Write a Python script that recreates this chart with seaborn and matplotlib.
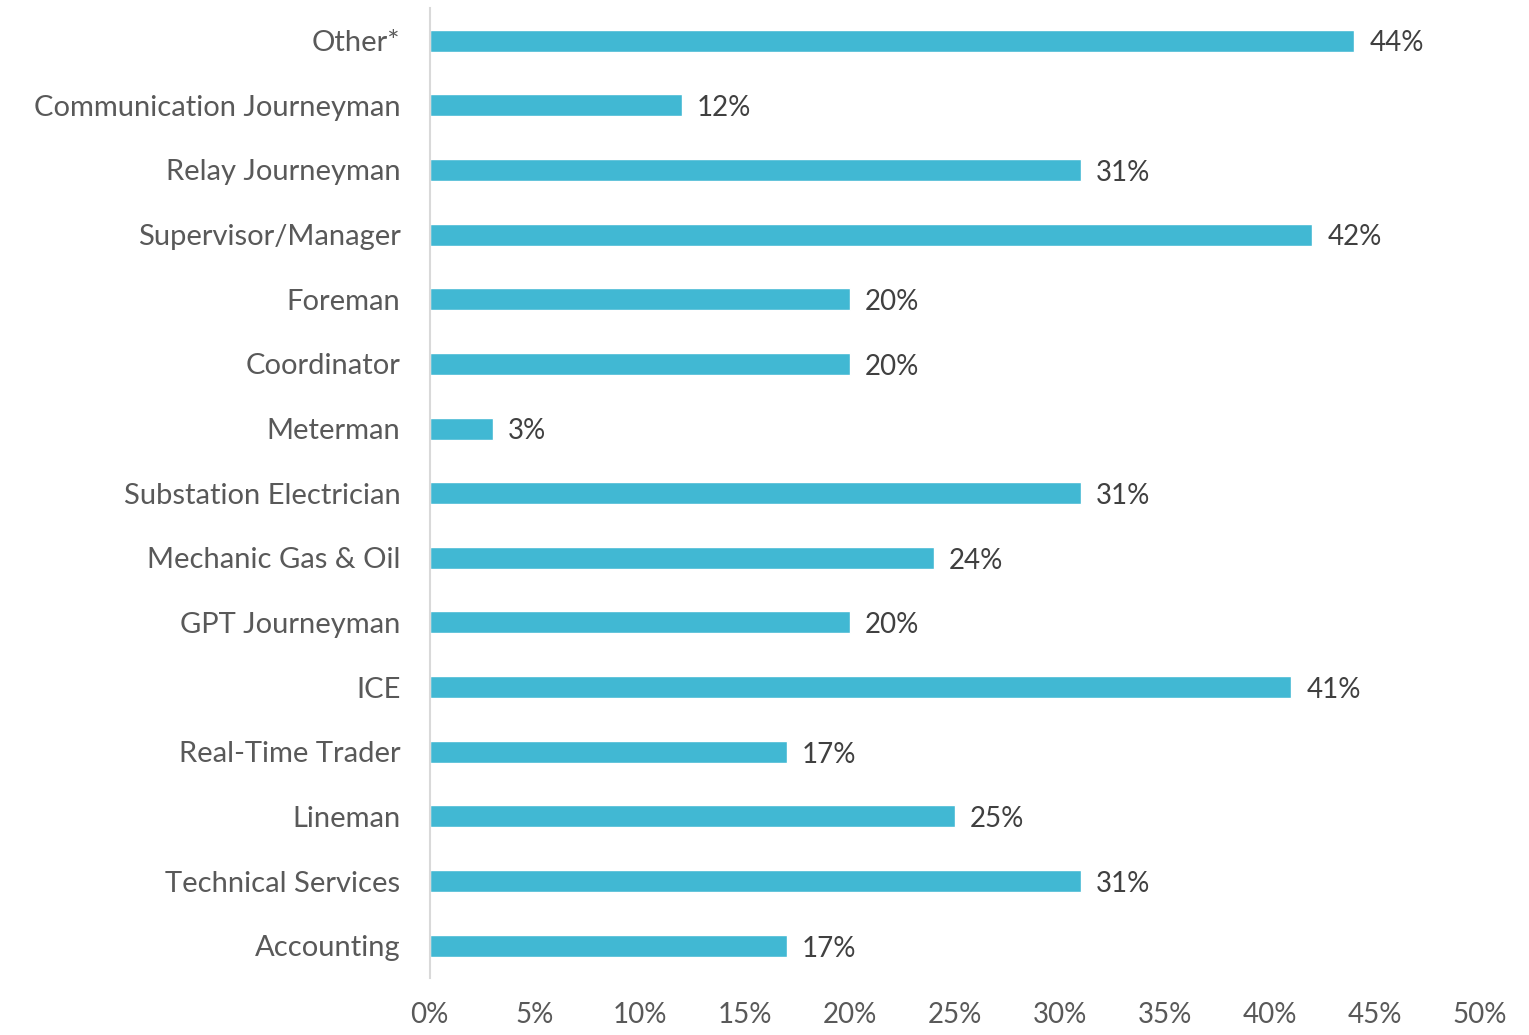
import pandas as pd
import seaborn as sns
import matplotlib.pyplot as plt
from matplotlib.ticker import FuncFormatter

sns.set_style('white')
plt.rcParams['font.family'] = ['Lato', 'DejaVu Sans']

roles = ['Other*', 'Communication Journeyman', 'Relay Journeyman', 'Supervisor/Manager',
         'Foreman', 'Coordinator', 'Meterman', 'Substation Electrician',
         'Mechanic Gas & Oil', 'GPT Journeyman', 'ICE', 'Real-Time Trader',
         'Lineman', 'Technical Services', 'Accounting']
share = [44, 12, 31, 42, 20, 20, 3, 31, 24, 20, 41, 17, 25, 31, 17]

df = pd.DataFrame({'role': roles, 'share': share})

fig = plt.figure(figsize=(15.29, 10.35), dpi=100)
ax = fig.add_axes([0.281, 0.055, 0.687, 0.937])

sns.barplot(data=df, y='role', x='share', orient='h', color='#41B8D3',
            width=0.34, saturation=1, ax=ax)

for i, v in enumerate(share):
    ax.annotate(f'{v}%', xy=(v, i), xytext=(11, -2), textcoords='offset points',
                ha='left', va='center', fontsize=20, color='#404040')

ax.set_xlim(0, 50)
ax.set_ylim(14.5, -0.5)
ax.set_xticks(range(0, 51, 5))
ax.xaxis.set_major_formatter(FuncFormatter(lambda x, p: f'{int(x)}%'))
ax.set_xlabel('')
ax.set_ylabel('')
ax.tick_params(axis='x', length=0, pad=17, labelsize=20, labelcolor='#595959')
ax.tick_params(axis='y', length=0, pad=21, labelsize=21, labelcolor='#595959')

for s in ['top', 'right', 'bottom']:
    ax.spines[s].set_visible(False)
ax.spines['left'].set_color('#D9D9D9')
ax.spines['left'].set_linewidth(1.5)

fig.savefig('out.png', dpi=100)
